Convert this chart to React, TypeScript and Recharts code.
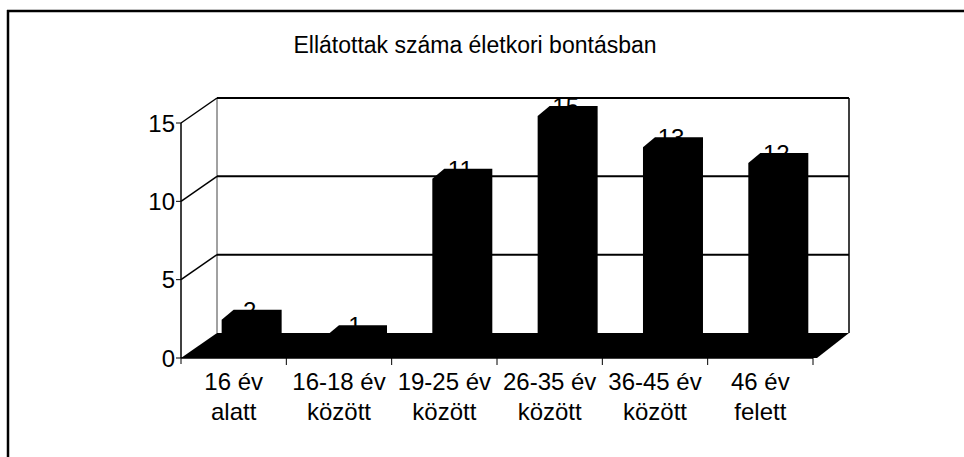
import { BarChart, Bar, XAxis, YAxis, CartesianGrid } from "recharts"

const TITLE = "Ellátottak száma életkori bontásban"
const CATEGORIES = [
  "16 év\nalatt",
  "16-18 év\nközött",
  "19-25 év\nközött",
  "26-35 év\nközött",
  "36-45 év\nközött",
  "46 év\nfelett",
]
const VALUES = [2, 1, 11, 15, 13, 12]
const Y_TICKS = [0, 5, 10, 15]

const W = 964
const H = 457
const MARGIN = { top: 123, right: 151, bottom: 39, left: 121 }
const Y_AXIS_W = 60
const X_AXIS_H = 60
const PLOT_W = W - MARGIN.left - MARGIN.right - Y_AXIS_W
const BAND = PLOT_W / CATEGORIES.length

// depth of the fake 3d box, and where the bars sit inside it
const DX = 36
const DY = -25
const BX = 18
const BY = -17
const FONT = "'Liberation Sans', Arial, sans-serif"

const rows = CATEGORIES.map((name, i) => ({ name, count: VALUES[i] }))

function GridLine(props: any) {
  const { x1, y1, x2, y, height } = props
  const bottom = y + height
  const isFloor = Math.abs(y1 - bottom) < 1
  if (isFloor) {
    return (
      <g key={props.key}>
        <line x1={x1 + DX} y1={y + DY} x2={x1 + DX} y2={bottom + DY} stroke="#444" strokeWidth={1} />
        <line x1={x2 + DX} y1={y + DY} x2={x2 + DX} y2={bottom + DY} stroke="#000" strokeWidth={1.5} />
        <polygon
          points={`${x1},${y1} ${x2 + 4},${y1} ${x2 + DX},${y1 + DY} ${x1 + DX},${y1 + DY}`}
          fill="#000"
        />
      </g>
    )
  }
  return (
    <g key={props.key}>
      <line x1={x1} y1={y1} x2={x1 + DX} y2={y1 + DY} stroke="#000" strokeWidth={1.5} />
      <line x1={x1 + DX} y1={y1 + DY} x2={x2 + DX} y2={y1 + DY} stroke="#000" strokeWidth={2} />
    </g>
  )
}

function Bar3D(props: any) {
  const { x, y, width, height, payload } = props
  const left = x + BX
  const right = x + BX + width
  const top = y + BY
  const base = y + height - 6
  return (
    <g>
      {/* the label sits behind the bar's top, as in the original */}
      <text
        x={left + width / 2 - 2}
        y={top + 9}
        textAnchor="middle"
        fontSize={24}
        fontFamily={FONT}
        fill="#000"
      >
        {payload.count}
      </text>
      <polygon
        points={`${left},${base} ${left},${top + 10} ${left + 12},${top} ${right},${top} ${right},${base}`}
        fill="#000"
      />
    </g>
  )
}

function CategoryTick(props: any) {
  const { x, y, payload, index } = props
  const lines = String(payload.value).split("\n")
  return (
    <g>
      {index === 0 && <line x1={x - BAND / 2} y1={y} x2={x - BAND / 2} y2={y + 6} stroke="#000" />}
      <line x1={x + BAND / 2} y1={y} x2={x + BAND / 2} y2={y + 7} stroke="#000" />
      {lines.map((t, i) => (
        <text
          key={i}
          x={x}
          y={y + 32 + i * 30}
          textAnchor="middle"
          fontSize={24}
          fontFamily={FONT}
          fill="#000"
        >
          {t}
        </text>
      ))}
    </g>
  )
}

export default function App() {
  return (
    <div style={{ position: "absolute", left: 0, top: 0, width: W, height: H, background: "#fff" }}>
      <svg width={W} height={H} style={{ position: "absolute", left: 0, top: 0 }}>
        <line x1={7} y1={11} x2={W} y2={11} stroke="#000" strokeWidth={2.5} />
        <line x1={8} y1={10} x2={8} y2={H} stroke="#000" strokeWidth={2.5} />
        <text x={475} y={53} textAnchor="middle" fontSize={23} fontFamily={FONT} fill="#000">
          {TITLE}
        </text>
      </svg>
      <div style={{ position: "absolute", left: 0, top: 0 }}>
        <BarChart width={W} height={H} data={rows} margin={MARGIN} barCategoryGap="21.5%">
          <CartesianGrid vertical={false} horizontal={GridLine} />
          <XAxis
            dataKey="name"
            interval={0}
            height={X_AXIS_H}
            tickLine={false}
            tickSize={0}
            tickMargin={0}
            axisLine={{ stroke: "#000", strokeWidth: 1.5 }}
            tick={<CategoryTick />}
          />
          <YAxis
            width={Y_AXIS_W}
            domain={[0, 15]}
            ticks={Y_TICKS}
            interval={0}
            tickSize={5}
            tickMargin={1}
            axisLine={{ stroke: "#000", strokeWidth: 1.5 }}
            tickLine={{ stroke: "#000" }}
            tick={{ fontSize: 24, fontFamily: FONT, fill: "#000" }}
          />
          <Bar dataKey="count" shape={<Bar3D />} isAnimationActive={false} />
        </BarChart>
      </div>
    </div>
  )
}
